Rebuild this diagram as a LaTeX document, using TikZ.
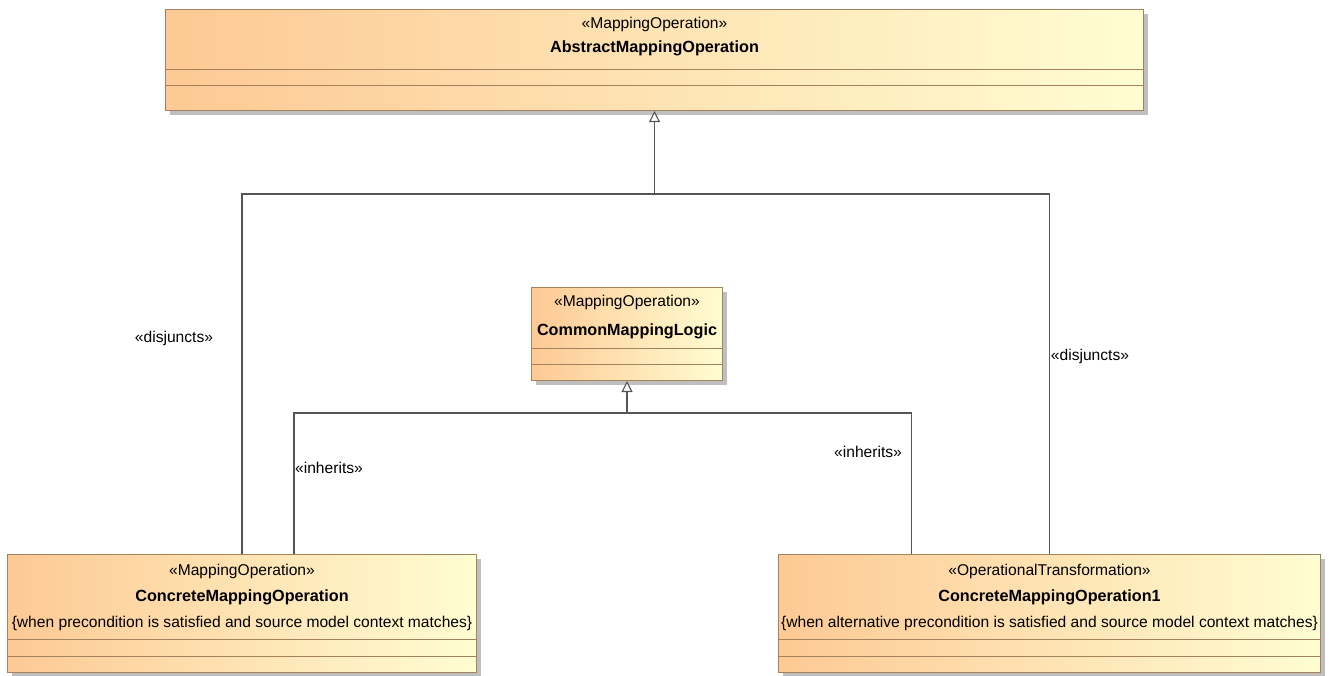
\documentclass[tikz,border=0pt]{standalone}
\usepackage{fontspec}
\setmainfont{Liberation Sans}
\usepackage{tikz}
\usetikzlibrary{positioning,arrows.meta,shadows,calc}
\definecolor{clsleft}{HTML}{FDC994}
\definecolor{clsright}{HTML}{FFFDD2}
\definecolor{clsline}{HTML}{A4825E}
\definecolor{connline}{HTML}{555555}
\newcommand{\stereo}[1]{\fontsize{15.6pt}{18pt}\selectfont\guillemotleft #1\guillemotright}
\newcommand{\clsname}[1]{\fontsize{16.2pt}{19pt}\selectfont\bfseries #1}

\begin{document}
\begin{tikzpicture}[x=1pt,y=-1pt,
    cls/.style={shape=rectangle, draw=clsline, line width=1pt, left color=clsleft, right color=clsright, anchor=north west, inner sep=0pt,
      drop shadow={shadow xshift=4pt, shadow yshift=-4pt, fill=black!25, opacity=1}},
    div/.style={draw=clsline, line width=1pt},
    txt/.style={inner sep=0pt, anchor=center},
    conn/.style={draw=connline, line width=1.1pt},
    gen/.style={conn, -{Triangle[open, length=11pt, width=11pt, fill=white]}},
  ]
    \useasboundingbox (0,0) rectangle (1329,675);
    \node[cls, minimum width=978pt, minimum height=101pt] (amo) at (165,9) {};
    \node[cls, minimum width=191pt, minimum height=93pt] (cml) at (531,287) {};
    \node[cls, minimum width=469pt, minimum height=118pt] (cmo) at (7,554) {};
    \node[cls, minimum width=542pt, minimum height=118pt] (cmo1) at (778,554) {};
    \draw[div] (amo.west |- 0,69) -- (amo.east |- 0,69) (amo.west |- 0,85) -- (amo.east |- 0,85);
    \draw[div] (cml.west |- 0,348) -- (cml.east |- 0,348) (cml.west |- 0,364) -- (cml.east |- 0,364);
    \draw[div] (cmo.west |- 0,639) -- (cmo.east |- 0,639) (cmo.west |- 0,656) -- (cmo.east |- 0,656);
    \draw[div] (cmo1.west |- 0,639) -- (cmo1.east |- 0,639) (cmo1.west |- 0,656) -- (cmo1.east |- 0,656);
    \node[txt] (amo-st) at ([yshift=-15pt]amo.north) {\stereo{MappingOperation}};
    \node[txt] (amo-nm) at ([yshift=-39pt]amo.north) {\clsname{AbstractMappingOperation}};
    \node[txt] (cml-st) at ([yshift=-15pt]cml.north) {\stereo{MappingOperation}};
    \node[txt] (cml-nm) at ([yshift=-44pt]cml.north) {\clsname{CommonMappingLogic}};
    \node[txt] (cmo-st) at ([yshift=-17pt]cmo.north) {\stereo{MappingOperation}};
    \node[txt] (cmo-nm) at ([yshift=-43pt]cmo.north) {\clsname{ConcreteMappingOperation}};
    \node[txt] (cmo-cn) at ([yshift=-69pt]cmo.north) {\fontsize{15.6pt}{18pt}\selectfont\{when precondition is satisfied and source model context matches\}};
    \node[txt] (cmo1-st) at ([yshift=-17pt]cmo1.north) {\stereo{OperationalTransformation}};
    \node[txt] (cmo1-nm) at ([yshift=-43pt]cmo1.north) {\clsname{ConcreteMappingOperation1}};
    \node[txt] (cmo1-cn) at ([yshift=-69pt]cmo1.north) {\fontsize{15.6pt}{18pt}\selectfont\{when alternative precondition is satisfied and source model context matches\}};
    \coordinate (dj) at (amo.south |- 0,194);
    \coordinate (ih) at (cml.south |- 0,413);
    \draw[conn] (cmo.north) -- (cmo.north |- dj) -- (cmo1.north |- dj) -- (cmo1.north);
    \draw[gen] (dj) -- (amo.south);
    \draw[conn] ([xshift=52pt]cmo.north) |- (ih) -| ([xshift=-138pt]cmo1.north);
    \draw[gen] (ih) -- (cml.south);
    \node[txt] (dj-l) at (174,338) {\stereo{disjuncts}};
    \node[txt] (dj-r) at (1090,356) {\stereo{disjuncts}};
    \node[txt] (ih-l) at (329,468) {\stereo{inherits}};
    \node[txt] (ih-r) at (868,452) {\stereo{inherits}};
  \end{tikzpicture}
\end{document}
